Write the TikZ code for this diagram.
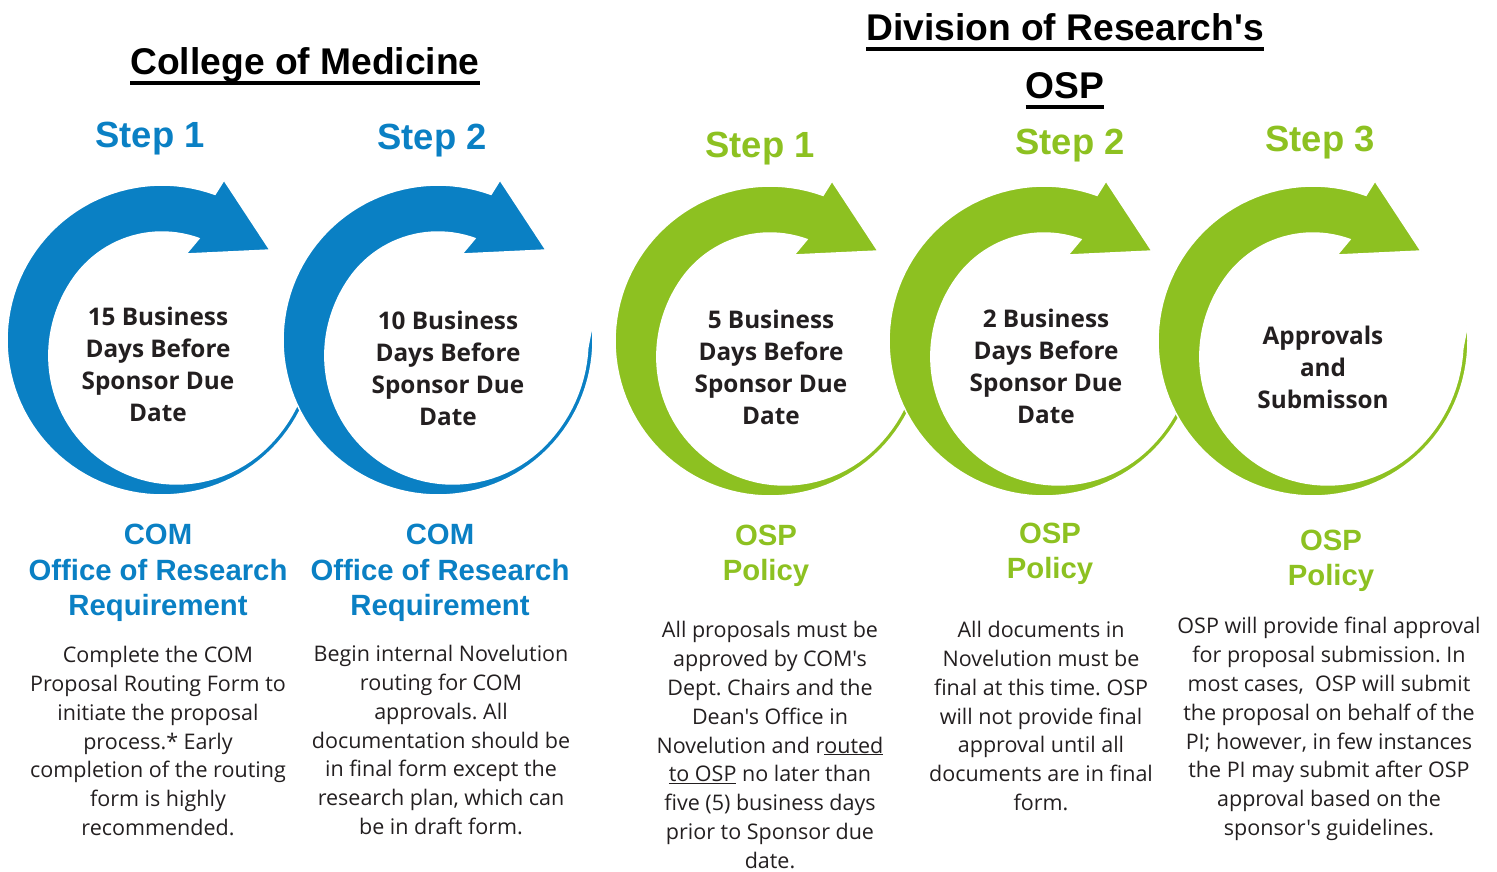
\documentclass[tikz,border=0pt]{standalone}
\usepackage{fontspec}
\setmainfont{Open Sans}[Ligatures=TeXOff]
\newfontfamily\headfont{Liberation Sans}
\definecolor{comblue}{HTML}{0A80C4}
\definecolor{ospgreen}{HTML}{8DC121}
\definecolor{inkgrey}{HTML}{231F20}
\frenchspacing

\tikzset{declare function={%
  armw(\a)=(5+21*(1+cos(max(0,min(180,1.0588*(\a-145))))))*min(1,(366-\a)/8);}}

% circular arrow: centre x, centre y, colour
\newcommand{\turnarrow}[3]{%
  \fill[#3,draw=white,line width=1.5pt]
    plot[domain=70:366,samples=100,variable=\t]
      ({#1+155*cos(\t)},{#2-155*sin(\t)})
    -- plot[domain=70:366,samples=100,variable=\t]
      ({#1+(155-armw(436-\t))*cos(436-\t)},
       {#2-(155-armw(436-\t))*sin(436-\t)})
    -- (#1+24,#2-86) -- (#1+108,#2-90) -- (#1+62,#2-160) -- cycle;}

\begin{document}
\begin{tikzpicture}[x=1pt,y=-1pt,
    title/.style={inner sep=0pt,anchor=base,font=\headfont\bfseries\fontsize{37.2}{40}\selectfont},
    steplabel/.style={font=\headfont\bfseries\fontsize{36.4}{40}\selectfont},
    daytext/.style={align=center,text=inkgrey,font=\bfseries\fontsize{24.3}{32}\selectfont},
    reqtext/.style={align=center,font=\headfont\bfseries\fontsize{29.3}{35.5}\selectfont},
    notetext/.style={align=center,text=inkgrey,font=\fontsize{21.5}{28.8}\selectfont}]
  \useasboundingbox (0,0) rectangle (1497,871);

  % arrows
  \turnarrow{162}{340}{comblue}
  \turnarrow{438}{340}{comblue}
  \turnarrow{770}{341}{ospgreen}
  \turnarrow{1044}{341}{ospgreen}
  \turnarrow{1313}{341}{ospgreen}

  % headings
  \node[title] (comtitle) at (305,74) {College of Medicine};
  \node[title] (divtitle) at (1065,40) {Division of Research's};
  \node[title] (osptitle) at (1065,98) {OSP};
  \foreach \n in {comtitle,divtitle,osptitle}
    \draw[line width=4pt] ([yshift=-9pt]\n.base west) -- ([yshift=-9pt]\n.base east);

  \node[steplabel,comblue] (comstepA) at (150,139) {Step 1};
  \node[steplabel,comblue] (comstepB) at (432,141) {Step 2};
  \node[steplabel,ospgreen] (ospstepA) at (760,149) {Step 1};
  \node[steplabel,ospgreen] (ospstepB) at (1070,146) {Step 2};
  \node[steplabel,ospgreen] (ospstepC) at (1320,143) {Step 3};

  % inside the arrows
  \node[daytext] (comdayA) at (158,364) {15 Business\\Days Before\\Sponsor Due\\Date};
  \node[daytext] (comdayB) at (448,368) {10 Business\\Days Before\\Sponsor Due\\Date};
  \node[daytext] (ospdayA) at (771,367) {5 Business\\Days Before\\Sponsor Due\\Date};
  \node[daytext] (ospdayB) at (1046,366) {2 Business\\Days Before\\Sponsor Due\\Date};
  \node[daytext] (ospdayC) at (1323,367) {Approvals\\and\\Submisson};

  % requirement labels
  \node[reqtext,comblue] (comreqA) at (158,573) {COM\\Office of Research\\Requirement};
  \node[reqtext,comblue] (comreqB) at (440,573) {COM\\Office of Research\\Requirement};
  \node[reqtext,ospgreen] (ospreqA) at (766,556) {OSP\\Policy};
  \node[reqtext,ospgreen] (ospreqB) at (1050,554) {OSP\\Policy};
  \node[reqtext,ospgreen] (ospreqC) at (1331,561) {OSP\\Policy};

  % notes
  \node[notetext] (comnoteA) at (158,741) {Complete the COM\\Proposal Routing Form to\\initiate the proposal\\process.* Early\\completion of the routing\\form is highly\\recommended.};
  \node[notetext] (comnoteB) at (441,740) {Begin internal Novelution\\routing for COM\\approvals. All\\documentation should be\\in final form except the\\research plan, which can\\be in draft form.};
  \node[notetext] (ospnoteA) at (770,745) {All proposals must be\\approved by COM's\\Dept. Chairs and the\\Dean's Office in\\Novelution and r\underline{outed}\\\underline{to OSP} no later than\\five (5) business days\\prior to Sponsor due\\date.};
  \node[notetext] (ospnoteB) at (1041,716) {All documents in\\Novelution must be\\final at this time. OSP\\will not provide final\\approval until all\\documents are in final\\form.};
  \node[notetext] (ospnoteC) at (1329,729) {OSP will provide final approval\\for proposal submission. In\\most cases,\ \ OSP will submit\\the proposal on behalf of the\\PI; however, in few instances\\the PI may submit after OSP\\approval based on the\\sponsor's guidelines.};
\end{tikzpicture}
\end{document}
